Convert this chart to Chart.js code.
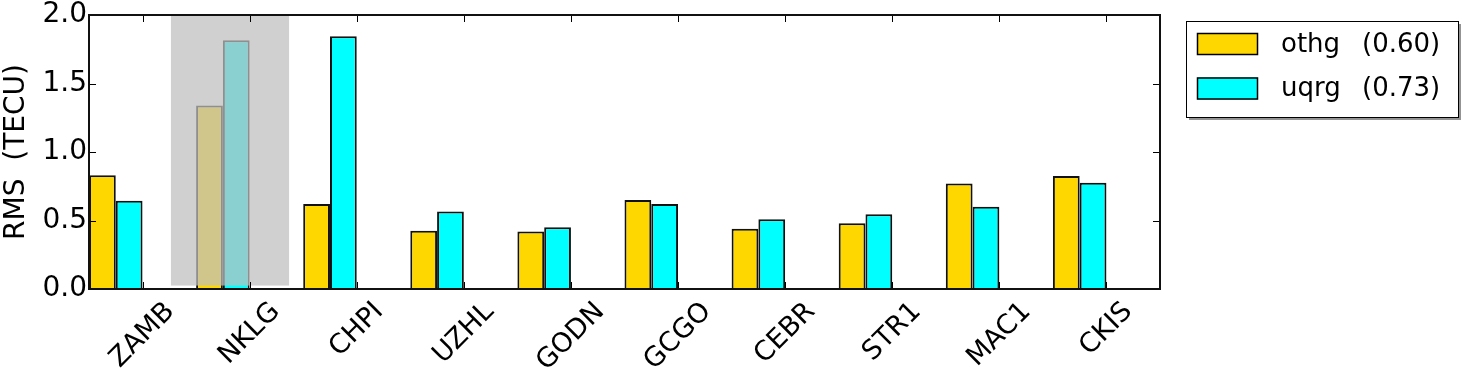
<!DOCTYPE html>
<html>
<head>
<meta charset="utf-8">
<script src="https://cdn.jsdelivr.net/npm/chart.js@4"></script>
<style>
  html, body { margin: 0; padding: 0; background: #fff; }
  canvas { display: block; }
</style>
</head>
<body>
<canvas id="grafico" width="1464" height="371"></canvas>
<script>
// estaciones y valores RMS
const estaciones = ["ZAMB", "NKLG", "CHPI", "UZHL", "GODN", "GCGO", "CEBR", "STR1", "MAC1", "CKIS"];
const othg = [0.83, 1.34, 0.62, 0.425, 0.42, 0.65, 0.44, 0.48, 0.77, 0.825];
const uqrg = [0.645, 1.815, 1.845, 0.565, 0.45, 0.62, 0.51, 0.545, 0.60, 0.775];
const nombresSeries = ["othg", "uqrg"];
const mediasSeries = ["(0.60)", "(0.73)"];
const coloresSeries = ["#FFD700", "#00FFFF"];
const ticksY = [0, 0.5, 1.0, 1.5, 2.0];
// zona sombreada sobre NKLG (en unidades de los ejes)
const sombraX = [0.765, 1.868];
const sombraY = [0.025, 2.0];

const fuente = "'DejaVu Sans', sans-serif";

function puntos(valores) {
  return valores.map((v, i) => ({ x: i + 0.25, y: v }));
}

// dibuja marco, ticks interiores, etiquetas X giradas, sombra y leyenda
const extras = {
  id: "extras",
  afterDatasetsDraw(chart) {
    const ctx = chart.ctx;
    const sx = chart.scales.x;
    const sy = chart.scales.y;

    // rectangulo gris semitransparente
    const x0 = sx.getPixelForValue(sombraX[0]);
    const x1 = sx.getPixelForValue(sombraX[1]);
    const y0 = sy.getPixelForValue(sombraY[1]);
    const y1 = sy.getPixelForValue(sombraY[0]);
    ctx.save();
    ctx.fillStyle = "rgba(191,191,191,0.73)";
    ctx.fillRect(x0, y0, x1 - x0, y1 - y0);
    ctx.restore();
  },
  afterDraw(chart) {
    const ctx = chart.ctx;
    const a = chart.chartArea;
    const sx = chart.scales.x;
    const sy = chart.scales.y;
    const largo = 7;

    ctx.save();
    ctx.strokeStyle = "#000";
    ctx.lineWidth = 1;
    // ticks Y (izquierda y derecha)
    ticksY.forEach((v) => {
      const y = Math.round(sy.getPixelForValue(v)) + 0.5;
      ctx.beginPath();
      ctx.moveTo(a.left, y); ctx.lineTo(a.left + largo, y);
      ctx.moveTo(a.right, y); ctx.lineTo(a.right - largo, y);
      ctx.stroke();
    });
    // ticks X (abajo y arriba)
    estaciones.forEach((e, i) => {
      const x = Math.round(sx.getPixelForValue(i + 0.5)) + 0.5;
      ctx.beginPath();
      ctx.moveTo(x, a.bottom); ctx.lineTo(x, a.bottom - largo);
      ctx.moveTo(x, a.top); ctx.lineTo(x, a.top + largo);
      ctx.stroke();
    });
    // marco
    ctx.lineWidth = 2;
    ctx.strokeStyle = "#111";
    ctx.strokeRect(a.left, a.top, a.right - a.left, a.bottom - a.top);

    // etiquetas X giradas 45 grados, centradas en el tick
    ctx.fillStyle = "#000";
    ctx.font = "27px " + fuente;
    ctx.textAlign = "center";
    ctx.textBaseline = "middle";
    const alto = 24;
    estaciones.forEach((e, i) => {
      const w = ctx.measureText(e).width;
      const caja = (w + alto) * Math.SQRT1_2;
      const cx = sx.getPixelForValue(i + 0.5);
      const cy = a.bottom + 10 + caja / 2;
      ctx.save();
      ctx.translate(cx, cy);
      ctx.rotate(-Math.PI / 4);
      ctx.fillText(e, 0, 0);
      ctx.restore();
    });

    // leyenda con sombra
    const lx = 1186, ly = 21, lw = 272, lh = 96;
    ctx.fillStyle = "rgba(120,120,120,0.8)";
    ctx.fillRect(lx + 3, ly + 3, lw, lh);
    ctx.fillStyle = "#fff";
    ctx.fillRect(lx, ly, lw, lh);
    ctx.lineWidth = 1;
    ctx.strokeStyle = "#000";
    ctx.strokeRect(lx + 0.5, ly + 0.5, lw, lh);
    ctx.textAlign = "left";
    ctx.font = "26px " + fuente;
    nombresSeries.forEach((n, k) => {
      const cy = 44 + k * 44.5;
      ctx.fillStyle = coloresSeries[k];
      ctx.fillRect(1197, cy - 11, 61, 22);
      ctx.strokeStyle = "#000";
      ctx.lineWidth = 1.5;
      ctx.strokeRect(1197.5, cy - 10.5, 60, 21);
      ctx.fillStyle = "#000";
      ctx.fillText(n, 1281, cy + 1);
      ctx.fillText(mediasSeries[k], 1362, cy + 1);
    });
    ctx.restore();
  }
};

const grafico = new Chart(document.getElementById("grafico"), {
  type: "bar",
  data: {
    datasets: [
      {
        label: nombresSeries[0],
        data: puntos(othg),
        backgroundColor: coloresSeries[0],
        borderColor: "#111",
        borderWidth: 2,
        categoryPercentage: 0.5,
        barPercentage: 1.0
      },
      {
        label: nombresSeries[1],
        data: puntos(uqrg),
        backgroundColor: coloresSeries[1],
        borderColor: "#111",
        borderWidth: 2,
        categoryPercentage: 0.5,
        barPercentage: 1.0
      }
    ]
  },
  options: {
    responsive: false,
    animation: false,
    devicePixelRatio: 1,
    layout: { padding: { left: 0, top: 15, right: 304, bottom: 0 } },
    plugins: {
      legend: { display: false },
      tooltip: { enabled: false }
    },
    scales: {
      x: {
        type: "linear",
        min: 0,
        max: 10,
        offset: false,
        grid: { display: false },
        border: { display: false },
        ticks: { display: false },
        afterFit: (escala) => { escala.height = 82; }
      },
      y: {
        min: 0,
        max: 2.0,
        grid: { display: false, drawTicks: false },
        border: { display: false },
        afterFit: (escala) => {
          escala.width = 89;
          escala.paddingTop = 0;
          escala.paddingBottom = 0;
        },
        ticks: {
          stepSize: 0.5,
          padding: 2,
          color: "#000",
          font: { family: fuente, size: 28 },
          callback: (v) => v.toFixed(1)
        },
        title: {
          display: true,
          text: "RMS  (TECU)",
          color: "#000",
          padding: { top: 0, bottom: 0 },
          font: { family: fuente, size: 28 }
        }
      }
    }
  },
  plugins: [extras]
});
</script>
</body>
</html>
